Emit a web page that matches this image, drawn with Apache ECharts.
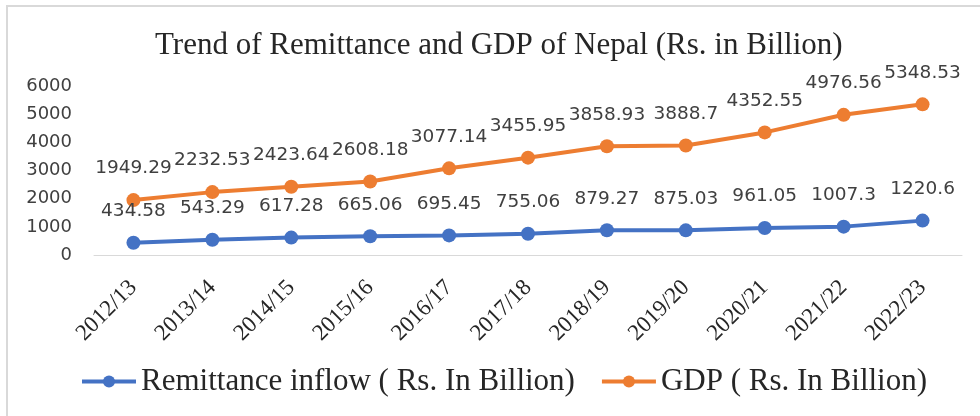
<!DOCTYPE html>
<html>
<head>
<meta charset="utf-8">
<script src="https://cdn.jsdelivr.net/npm/echarts@6/dist/echarts.min.js"></script>
<style>html,body{margin:0;padding:0;background:#fff;}#c{width:980px;height:416px;}</style>
</head>
<body>
<div id="c"></div>
<script>
var categories = ['2012/13','2013/14','2014/15','2015/16','2016/17','2017/18','2018/19','2019/20','2020/21','2021/22','2022/23'];
var remittance = [434.58, 543.29, 617.28, 665.06, 695.45, 755.06, 879.27, 875.03, 961.05, 1007.3, 1220.6];
var gdp = [1949.29, 2232.53, 2423.64, 2608.18, 3077.14, 3455.95, 3858.93, 3888.7, 4352.55, 4976.56, 5348.53];
var seriesNames = ['Remittance inflow ( Rs. In Billion)', 'GDP ( Rs. In Billion)'];
var titleText = 'Trend of Remittance and GDP of Nepal (Rs. in Billion)';

var chart = echarts.init(document.getElementById('c'), null, {renderer: 'canvas'});
var labelStyle = {show: true, position: 'top', distance: 15, color: '#404040', fontFamily: 'DejaVu Sans', fontSize: 18.5};
chart.setOption({
  animation: false,
  backgroundColor: '#fff',
  graphic: [{type: 'rect', shape: {x: 7, y: 6, width: 1000, height: 500}, style: {fill: 'none', stroke: '#d9d9d9', lineWidth: 2}, silent: true}],
  title: {text: titleText, left: 150, top: 25, textStyle: {fontFamily: 'Liberation Serif', fontWeight: 'normal', fontSize: 31, color: '#262626'}},
  legend: {bottom: 14, left: 75, itemWidth: 54, itemHeight: 15, itemGap: 25,
    lineStyle: {width: 4},
    textStyle: {fontFamily: 'Liberation Serif', fontSize: 31, color: '#262626'},
    data: seriesNames},
  grid: {left: 94, right: 18, top: 86, bottom: 161, containLabel: false},
  xAxis: {type: 'category', data: categories, boundaryGap: true,
    axisLine: {lineStyle: {color: '#d9d9d9', width: 1}}, axisTick: {show: false},
    axisLabel: {interval: 0, rotate: 45, margin: 29, fontFamily: 'Liberation Serif', fontSize: 23, color: '#262626'}},
  yAxis: {type: 'value', min: 0, max: 6000, interval: 1000,
    axisLine: {show: false}, axisTick: {show: false}, splitLine: {show: false},
    axisLabel: {margin: 22, fontFamily: 'DejaVu Sans', fontSize: 18, color: '#404040', formatter: function (v) { return String(v); }}},
  series: [
    {name: seriesNames[0], type: 'line', data: remittance, symbol: 'circle', symbolSize: 14,
      itemStyle: {color: '#4472C4'}, lineStyle: {color: '#4472C4', width: 4}, label: labelStyle},
    {name: seriesNames[1], type: 'line', data: gdp, symbol: 'circle', symbolSize: 14,
      itemStyle: {color: '#ED7D31'}, lineStyle: {color: '#ED7D31', width: 4}, label: labelStyle}
  ]
});
</script>
</body>
</html>
